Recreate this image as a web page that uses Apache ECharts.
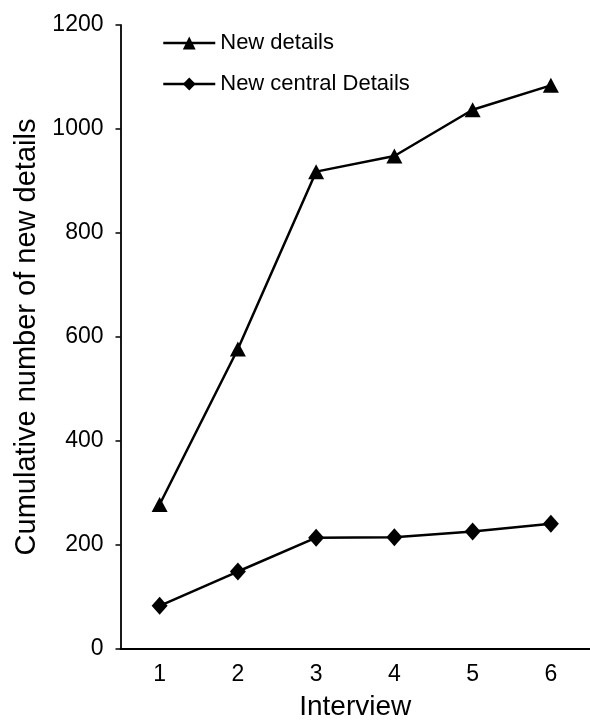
<!DOCTYPE html>
<html>
<head>
<meta charset="utf-8">
<script src="https://cdn.jsdelivr.net/npm/echarts@6/dist/echarts.min.js"></script>
<style>
html,body{margin:0;padding:0;background:#fff;}
#chart{width:590px;height:726px;}
</style>
</head>
<body>
<div id="chart"></div>
<script>
var categories = ['1', '2', '3', '4', '5', '6'];
var newDetails = [278, 577, 918, 948, 1037, 1084];
var newCentralDetails = [83, 149, 214, 215, 226, 241];
var yTicks = [0, 200, 400, 600, 800, 1000, 1200];
var seriesNames = ['New details', 'New central Details'];

var font = 'Liberation Sans, Arial, Helvetica, sans-serif';
var chart = echarts.init(document.getElementById('chart'));
chart.setOption({
  backgroundColor: '#fff',
  animation: false,
  grid: { left: 120.5, top: 25, width: 477.6, height: 629.7 },
  legend: {
    orient: 'vertical',
    left: 157,
    top: 27,
    itemWidth: 52,
    itemHeight: 16,
    itemGap: 19,
    lineStyle: { width: 2.5 },
    textStyle: { fontFamily: font, fontSize: 22, color: '#000' },
    data: seriesNames
  },
  xAxis: {
    type: 'category',
    data: categories,
    boundaryGap: true,
    name: 'Interview',
    nameLocation: 'middle',
    nameGap: 44,
    nameTextStyle: { fontFamily: font, fontSize: 28, color: '#000' },
    axisLine: { lineStyle: { color: '#000', width: 1.8 } },
    axisTick: { alignWithLabel: true, length: 5, lineStyle: { color: '#000', width: 1.5 } },
    axisLabel: { fontFamily: font, fontSize: 23, color: '#000', margin: 14 },
    splitLine: { show: false }
  },
  yAxis: {
    type: 'value',
    min: yTicks[0],
    max: yTicks[yTicks.length - 1],
    interval: yTicks[1] - yTicks[0],
    name: 'Cumulative number of new details',
    nameLocation: 'middle',
    nameGap: 74,
    nameTextStyle: { fontFamily: font, fontSize: 29, color: '#000' },
    axisLine: { show: true, lineStyle: { color: '#000', width: 1.8 } },
    axisTick: { show: true, length: 5, lineStyle: { color: '#000', width: 1.5 } },
    axisLabel: {
      fontFamily: font, fontSize: 23, color: '#000', margin: 17,
      formatter: function (v) { return String(v); }
    },
    splitLine: { show: false }
  },
  series: [
    {
      name: seriesNames[0],
      type: 'line',
      data: newDetails,
      symbol: 'triangle',
      symbolSize: [16, 15],
      lineStyle: { color: '#000', width: 2.5 },
      itemStyle: { color: '#000' }
    },
    {
      name: seriesNames[1],
      type: 'line',
      data: newCentralDetails,
      symbol: 'diamond',
      symbolSize: [16, 18],
      lineStyle: { color: '#000', width: 2.5 },
      itemStyle: { color: '#000' }
    }
  ]
});
</script>
</body>
</html>
